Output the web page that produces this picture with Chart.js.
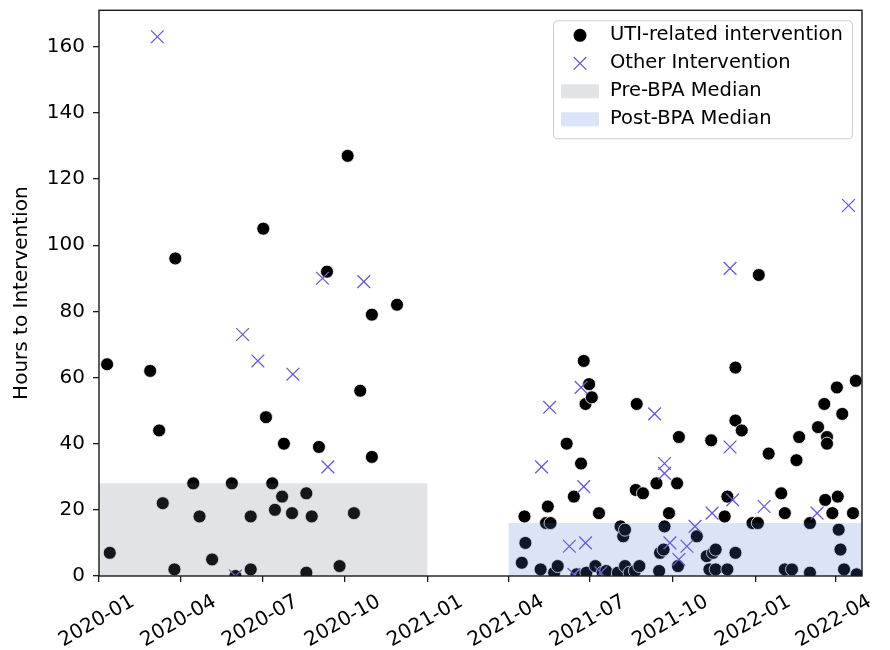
<!DOCTYPE html>
<html>
<head>
<meta charset="utf-8">
<title>Hours to Intervention</title>
<script src="https://cdn.jsdelivr.net/npm/chart.js@4.4.0/dist/chart.umd.min.js"></script>
<style>
  html, body { margin: 0; padding: 0; background: #ffffff; }
  #wrap { width: 890px; height: 650px; position: relative; }
</style>
</head>
<body>
<div id="wrap"><canvas id="intervention-plot"></canvas></div>
<script>
// Axis ticks
const xTickLabels = ['2020-01', '2020-04', '2020-07', '2020-10', '2021-01', '2021-04', '2021-07', '2021-10', '2022-01', '2022-04'];
const yTickValues = [0, 20, 40, 60, 80, 100, 120, 140, 160];
const xRange = ['2020-01-01', '2022-04-30'];
const yRange = [0, 171];

// UTI-related interventions (date, hours)
const utiDates = [
  '2020-01-10', '2020-01-13', '2020-02-27', '2020-03-08', '2020-03-12', '2020-03-25', '2020-03-26', '2020-04-15',
  '2020-04-22', '2020-05-06', '2020-05-28', '2020-06-01', '2020-06-18', '2020-06-18', '2020-07-02', '2020-07-05',
  '2020-07-12', '2020-07-15', '2020-07-23', '2020-07-25', '2020-08-03', '2020-08-19', '2020-08-19', '2020-08-25',
  '2020-09-02', '2020-09-11', '2020-09-25', '2020-10-04', '2020-10-11', '2020-10-18', '2020-10-31', '2020-10-31',
  '2020-11-28',
  '2021-04-16', '2021-04-19', '2021-04-20', '2021-05-07', '2021-05-13', '2021-05-15', '2021-05-18', '2021-05-22',
  '2021-05-26', '2021-06-05', '2021-06-13', '2021-06-16', '2021-06-21', '2021-06-22', '2021-06-24', '2021-06-26',
  '2021-06-27', '2021-06-30', '2021-07-03', '2021-07-07', '2021-07-11', '2021-07-15', '2021-07-19', '2021-08-01',
  '2021-08-04', '2021-08-07', '2021-08-09', '2021-08-09', '2021-08-14', '2021-08-20', '2021-08-21', '2021-08-22',
  '2021-08-25', '2021-08-29', '2021-09-13', '2021-09-16', '2021-09-17', '2021-09-21', '2021-09-22', '2021-09-27',
  '2021-10-06', '2021-10-07', '2021-10-08', '2021-10-28', '2021-11-08', '2021-11-11', '2021-11-13', '2021-11-15',
  '2021-11-18', '2021-11-18', '2021-11-28', '2021-12-01', '2021-12-01', '2021-12-10', '2021-12-10', '2021-12-10',
  '2021-12-17', '2021-12-29', '2022-01-04', '2022-01-05', '2022-01-16', '2022-01-30', '2022-02-03', '2022-02-03',
  '2022-02-11', '2022-02-16', '2022-02-19', '2022-03-03', '2022-03-03', '2022-03-12', '2022-03-19', '2022-03-20',
  '2022-03-22', '2022-03-22', '2022-03-28', '2022-04-02', '2022-04-03', '2022-04-04', '2022-04-06', '2022-04-08',
  '2022-04-10', '2022-04-20', '2022-04-23', '2022-04-24'
];
const utiHours = [
  64, 7, 62, 44, 22, 2, 96, 28,
  18, 5, 28, 0, 18, 2, 105, 48,
  28, 20, 24, 40, 19, 1, 25, 18,
  39, 92, 3, 127, 19, 56, 79, 36,
  82,
  4, 18, 10, 2, 16, 21, 16, 1,
  3, 40, 24, 0.5, 34, 0, 65, 52,
  1, 58, 54, 3, 19, 1, 1.5, 1,
  15, 12, 14, 3, 1, 1.5, 26, 52,
  3, 25, 28, 1.5, 7, 8, 15, 19,
  28, 3, 42, 12, 6, 2, 41, 7,
  8, 2, 18, 2, 24, 7, 63, 47,
  44, 16, 16, 91, 37, 25, 19, 2,
  2, 35, 42, 16, 1, 45, 52, 23,
  42, 40, 19, 57, 24, 14, 8, 49,
  2, 19, 59, 0.5
];

// Other interventions (date, hours)
const otherDates = [
  '2020-03-06', '2020-06-01', '2020-06-09', '2020-06-26', '2020-08-04', '2020-09-06', '2020-09-12', '2020-10-22',
  '2021-05-08', '2021-05-17', '2021-06-08', '2021-06-13', '2021-06-21', '2021-06-24', '2021-06-26', '2021-07-13',
  '2021-09-11', '2021-09-22', '2021-09-22', '2021-09-28', '2021-10-08', '2021-10-17', '2021-10-26', '2021-11-14',
  '2021-12-04', '2021-12-04', '2021-12-07', '2022-01-11', '2022-03-11', '2022-04-15'
];
const otherHours = [
  163, 0, 73, 65, 61, 90, 33, 89,
  33, 51, 9, 0.5, 57, 27, 10, 1,
  49, 34, 31, 10, 5, 9, 15, 19,
  93, 39, 23, 21, 19, 112
];

// Median bands before and after the BPA
const medianLabels = ['Pre-BPA Median', 'Post-BPA Median'];
const medianHours = [28, 16];
const medianStart = ['2020-01-01', '2021-04-01'];
const medianEnd = ['2021-01-01', '2022-04-30'];

const FONT = '"DejaVu Sans", "Liberation Sans", sans-serif';
const FONT_SIZE = 20;
const LEGEND_FONT_SIZE = 19.5;
const UTI_COLOR = '#000000';
const OTHER_COLOR = 'rgb(106, 90, 205)';
const MEDIAN_COLORS = ['rgba(105, 115, 130, 0.2)', 'rgba(75, 120, 215, 0.2)'];

// Convert a YYYY-MM-DD string to a UTC timestamp
function toTime(s) {
  return Date.UTC(+s.slice(0, 4), +s.slice(5, 7) - 1, +s.slice(8, 10));
}

function toPoints(dates, hours) {
  return dates.map((d, i) => ({ x: toTime(d), y: hours[i] }));
}

// Band dataset: a flat line at the median filled down to zero
function medianBand(i) {
  return {
    type: 'line',
    label: medianLabels[i],
    data: [
      { x: toTime(medianStart[i]), y: medianHours[i] },
      { x: toTime(medianEnd[i]), y: medianHours[i] }
    ],
    showLine: true,
    fill: 'origin',
    backgroundColor: MEDIAN_COLORS[i],
    borderWidth: 0,
    pointRadius: 0,
    order: 0,
    clip: 0
  };
}

// Box around the plot area (matplotlib-style spines)
const plotFrame = {
  id: 'plotFrame',
  afterDatasetsDraw(chart) {
    const { ctx, chartArea: a } = chart;
    ctx.save();
    ctx.strokeStyle = '#1a1a1a';
    ctx.lineWidth = 1.4;
    ctx.strokeRect(a.left, a.top, a.right - a.left, a.bottom - a.top);
    ctx.restore();
  }
};

// Legend drawn inside the upper right corner of the plot
const insideLegend = {
  id: 'insideLegend',
  afterDraw(chart) {
    const { ctx, chartArea: a } = chart;
    const x = a.right - 309, y = a.top + 10, w = 299, h = 118;
    ctx.save();
    ctx.fillStyle = 'rgba(255, 255, 255, 0.8)';
    ctx.strokeStyle = '#cccccc';
    ctx.lineWidth = 1;
    ctx.beginPath();
    ctx.roundRect(x + 0.5, y + 0.5, w, h, 4);
    ctx.fill();
    ctx.stroke();

    const order = [2, 3, 0, 1];
    order.forEach((di, row) => {
      const ds = chart.data.datasets[di];
      const cy = y + 15 + row * 28;
      const cx = x + 27;
      if (ds.pointStyle === 'circle') {
        ctx.beginPath();
        ctx.arc(cx, cy, 6.5, 0, Math.PI * 2);
        ctx.fillStyle = ds.backgroundColor;
        ctx.fill();
      } else if (ds.pointStyle === 'crossRot') {
        const r = 6.3;
        ctx.beginPath();
        ctx.moveTo(cx - r, cy - r); ctx.lineTo(cx + r, cy + r);
        ctx.moveTo(cx - r, cy + r); ctx.lineTo(cx + r, cy - r);
        ctx.strokeStyle = ds.borderColor;
        ctx.lineWidth = ds.borderWidth;
        ctx.stroke();
      } else {
        ctx.fillStyle = ds.backgroundColor;
        ctx.fillRect(x + 8, cy - 7, 38, 14);
      }
      ctx.fillStyle = '#000000';
      ctx.font = LEGEND_FONT_SIZE + 'px ' + FONT;
      ctx.textBaseline = 'middle';
      ctx.textAlign = 'left';
      ctx.fillText(ds.label, x + 57, cy);
    });
    ctx.restore();
  }
};

function createInterventionPlot() {
  const ctx = document.getElementById('intervention-plot').getContext('2d');
  return new Chart(ctx, {
    type: 'scatter',
    data: {
      datasets: [
        medianBand(0),
        medianBand(1),
        {
          label: 'UTI-related intervention',
          data: toPoints(utiDates, utiHours),
          pointStyle: 'circle',
          pointRadius: 6.5,
          backgroundColor: UTI_COLOR,
          borderColor: '#ffffff',
          borderWidth: 0.8,
          order: 2,
          clip: 0
        },
        {
          label: 'Other Intervention',
          data: toPoints(otherDates, otherHours),
          pointStyle: 'crossRot',
          pointRadius: 9,
          backgroundColor: OTHER_COLOR,
          borderColor: OTHER_COLOR,
          borderWidth: 1.3,
          order: 1,
          clip: 0
        }
      ]
    },
    options: {
      responsive: true,
      maintainAspectRatio: false,
      animation: false,
      layout: { padding: { top: 9, right: 28, left: 0, bottom: 0 } },
      plugins: {
        legend: { display: false },
        tooltip: { enabled: false }
      },
      scales: {
        x: {
          type: 'linear',
          min: toTime(xRange[0]),
          max: toTime(xRange[1]),
          afterBuildTicks: (scale) => {
            scale.ticks = xTickLabels.map(l => ({ value: toTime(l + '-01') }));
          },
          afterFit: (scale) => {
            scale.height = 74;
            scale.paddingLeft = 0;
            scale.paddingRight = 0;
          },
          border: { display: false },
          grid: { drawOnChartArea: false, drawTicks: true, tickLength: 6, color: '#1a1a1a', lineWidth: 1.3 },
          ticks: {
            autoSkip: false,
            minRotation: 30,
            maxRotation: 30,
            labelOffset: 34,
            padding: 8,
            color: '#000000',
            font: { family: FONT, size: FONT_SIZE },
            callback: (value, index) => xTickLabels[index]
          }
        },
        y: {
          min: yRange[0],
          max: yRange[1],
          afterBuildTicks: (scale) => {
            scale.ticks = yTickValues.map(v => ({ value: v }));
          },
          afterFit: (scale) => {
            scale.width = 99;
            scale.paddingTop = 0;
            scale.paddingBottom = 0;
          },
          border: { display: false },
          grid: { drawOnChartArea: false, drawTicks: true, tickLength: 6, color: '#1a1a1a', lineWidth: 1.3 },
          ticks: {
            padding: 8,
            color: '#000000',
            font: { family: FONT, size: FONT_SIZE },
            callback: (value) => value
          },
          title: {
            display: true,
            text: 'Hours to Intervention',
            color: '#000000',
            font: { family: FONT, size: FONT_SIZE },
            padding: { top: 10, bottom: 0 }
          }
        }
      }
    },
    plugins: [plotFrame, insideLegend]
  });
}

createInterventionPlot();
</script>
</body>
</html>
